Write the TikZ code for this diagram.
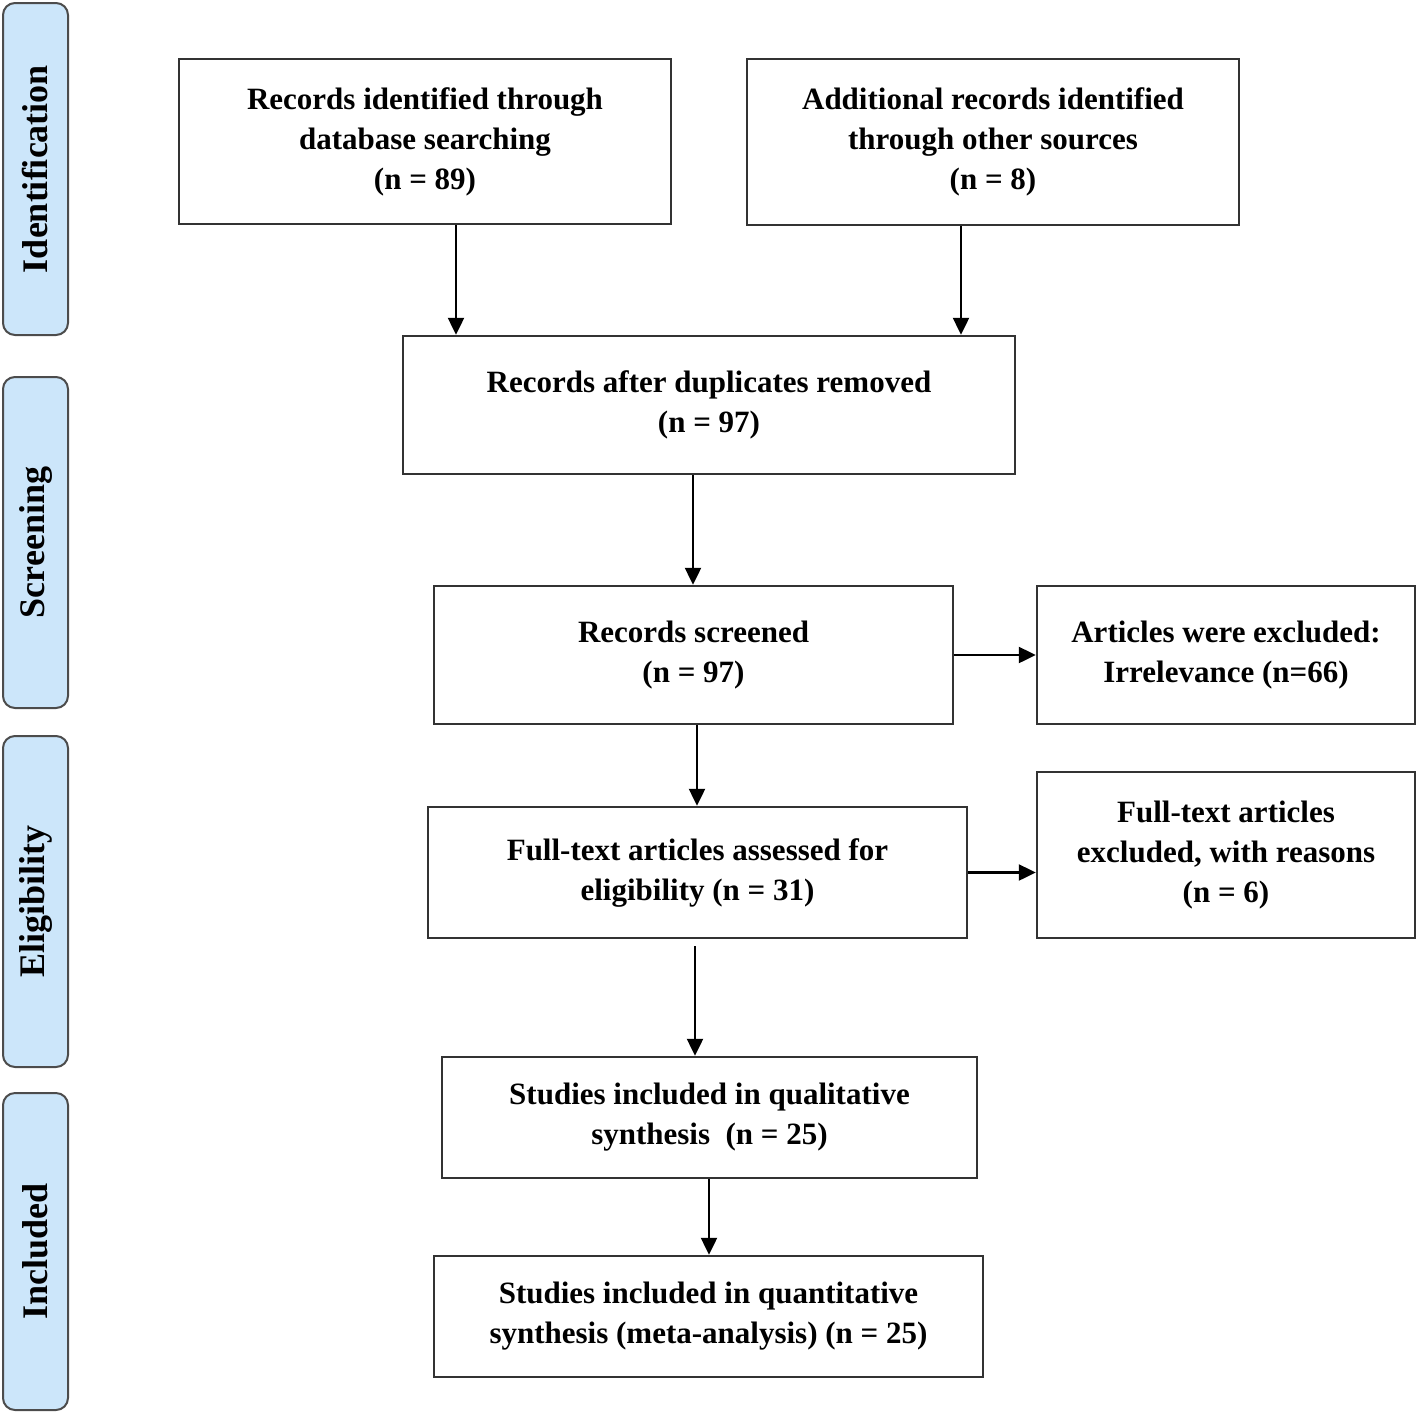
\documentclass[tikz,border=0pt]{standalone}
\usepackage{fontspec}
\setmainfont{Liberation Serif}
\usetikzlibrary{arrows.meta}
\begin{document}
\begin{tikzpicture}[x=1pt,y=-1pt,
  box/.style={draw=black!80,line width=2.4pt,align=center,font=\fontsize{31}{40}\selectfont\bfseries,inner sep=0pt},
  stage/.style={draw=black!70,line width=2pt,fill={rgb,255:red,204;green,230;blue,250},rounded corners=12pt,minimum width=65pt,inner sep=0pt},
  stagelabel/.style={rotate=90,font=\fontsize{36}{40}\selectfont\bfseries},
  arr/.style={line width=2.2pt,-{Triangle[length=17pt,width=16pt]}}]
\useasboundingbox (0,0) rectangle (1418,1414);
% stages
\node[stage,minimum height=332pt] (s1) at (35.5,169) {};
\node[stagelabel] (s1t) at (s1.center) {Identification};
\node[stage,minimum height=331pt] (s2) at (35.5,542.5) {};
\node[stagelabel] (s2t) at (s2.center) {Screening};
\node[stage,minimum height=331pt] (s3) at (35.5,901.5) {};
\node[stagelabel] (s3t) at (s3.center) {Eligibility};
\node[stage,minimum height=317pt] (s4) at (35.5,1251.5) {};
\node[stagelabel] (s4t) at (s4.center) {Included};
% boxes
\node[box,minimum width=492pt,minimum height=165pt] (b1) at (425,141.5) {Records identified through\\database searching\\(n = 89)};
\node[box,minimum width=492pt,minimum height=166pt] (b2) at (993,142) {Additional records identified\\through other sources\\(n = 8)};
\node[box,minimum width=612pt,minimum height=138pt] (b3) at (709,405) {Records after duplicates removed\\(n = 97)};
\node[box,minimum width=519pt,minimum height=138pt] (b4) at (693.5,655) {Records screened\\(n = 97)};
\node[box,minimum width=378pt,minimum height=138pt] (b5) at (1226,655) {Articles were excluded:\\Irrelevance (n=66)};
\node[box,minimum width=539pt,minimum height=131pt] (b6) at (697.5,872.5) {Full-text articles assessed for\\eligibility (n = 31)};
\node[box,minimum width=378pt,minimum height=166pt] (b7) at (1226,855) {Full-text articles\\excluded, with reasons\\(n = 6)};
\node[box,minimum width=535pt,minimum height=121pt] (b8) at (709.5,1117.5) {Studies included in qualitative\\synthesis~~(n = 25)};
\node[box,minimum width=549pt,minimum height=121pt] (b9) at (708.5,1316.5) {Studies included in quantitative\\synthesis (meta-analysis) (n = 25)};
% arrows
\draw[arr] (b1.south -| 456,0) -- (b3.north -| 456,0);
\draw[arr] (b2.south -| 961,0) -- (b3.north -| 961,0);
\draw[arr] (b3.south -| 693,0) -- (b4.north -| 693,0);
\draw[arr] (b4.south -| 697,0) -- (b6.north -| 697,0);
\draw[arr] ([yshift=-7pt]b6.south -| 695,0) -- (b8.north -| 695,0);
\draw[arr] (b8.south -| 709,0) -- (b9.north -| 709,0);
\draw[arr] (b4.east) -- (b5.west);
\draw[arr] (b6.east) -- (b6.east -| b7.west);
\end{tikzpicture}
\end{document}
